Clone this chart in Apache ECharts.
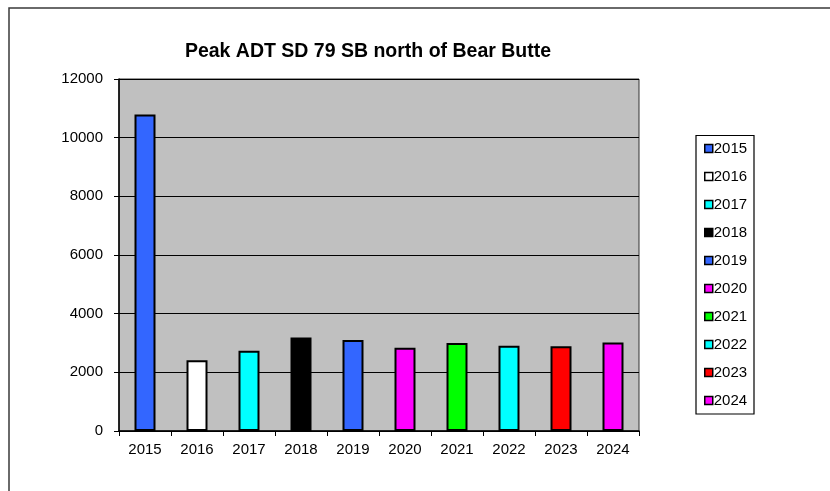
<!DOCTYPE html>
<html>
<head>
<meta charset="utf-8">
<script src="https://cdn.jsdelivr.net/npm/echarts@6/dist/echarts.min.js"></script>
<style>
html,body{margin:0;padding:0;background:#fff;}
#c{width:830px;height:491px;}
</style>
</head>
<body>
<div id="c"></div>
<script>
const categories = ['2015','2016','2017','2018','2019','2020','2021','2022','2023','2024'];
const values = [10790, 2410, 2740, 3190, 3100, 2840, 3000, 2910, 2890, 3020];
const colors = ['#3366FF','#FFFFFF','#00FFFF','#000000','#3366FF','#FF00FF','#00FF00','#00FFFF','#FF0000','#FF00FF'];
const yTicks = {min: 0, max: 12000, interval: 2000};

const chart = echarts.init(document.getElementById('c'));
const font = 'Liberation Sans, Arial, sans-serif';
const series = categories.map((name, i) => ({
  name: name,
  type: 'bar',
  stack: 'all',
  barWidth: 21,
  data: categories.map((c, j) => j === i ? values[i] : '-'),
  itemStyle: {color: colors[i], borderColor: '#000', borderWidth: 2},
  emphasis: {disabled: true},
  animation: false
}));

chart.setOption({
  animation: false,
  title: {
    text: 'Peak ADT SD 79 SB north of Bear Butte',
    left: 363, top: 37, textAlign: 'center',
    textStyle: {fontFamily: font, fontSize: 19.5, fontWeight: 'bold', color: '#000'}
  },
  graphic: [
    {type: 'rect', shape: {x: 9, y: 8, width: 840, height: 500}, style: {fill: 'none', stroke: '#3a3a3a', lineWidth: 1.5}, silent: true},
    {type: 'rect', shape: {x: 696, y: 135.5, width: 58, height: 278.5}, style: {fill: '#fff', stroke: '#000', lineWidth: 1.2}, silent: true, z: -1}
  ],
  legend: {
    orient: 'vertical',
    left: 699, top: 136,
    itemWidth: 8, itemHeight: 8,
    itemGap: 13,
    icon: 'rect',
    itemStyle: {borderColor: '#000', borderWidth: 1.5},
    textStyle: {fontFamily: font, fontSize: 15, color: '#000', padding: [0,0,0,-4]},
    data: categories,
    selectedMode: false
  },
  grid: {
    left: 119, top: 79, width: 520, height: 352,
    show: true, backgroundColor: '#C0C0C0', borderColor: '#333', borderWidth: 1
  },
  xAxis: {
    type: 'category',
    data: categories,
    axisLine: {lineStyle: {color: '#000', width: 1.5}},
    axisTick: {show: true, length: 5, lineStyle: {color: '#000'}},
    axisLabel: {fontFamily: font, fontSize: 15, color: '#000', margin: 11}
  },
  yAxis: {
    type: 'value',
    min: yTicks.min, max: yTicks.max, interval: yTicks.interval,
    axisLine: {show: true, lineStyle: {color: '#000', width: 1.5}},
    axisTick: {show: true, length: 5, lineStyle: {color: '#000'}},
    axisLabel: {fontFamily: font, fontSize: 15, color: '#000', margin: 16, formatter: v => String(v)},
    splitLine: {show: true, lineStyle: {color: '#000', width: 1}}
  },
  series: series
});
</script>
</body>
</html>
